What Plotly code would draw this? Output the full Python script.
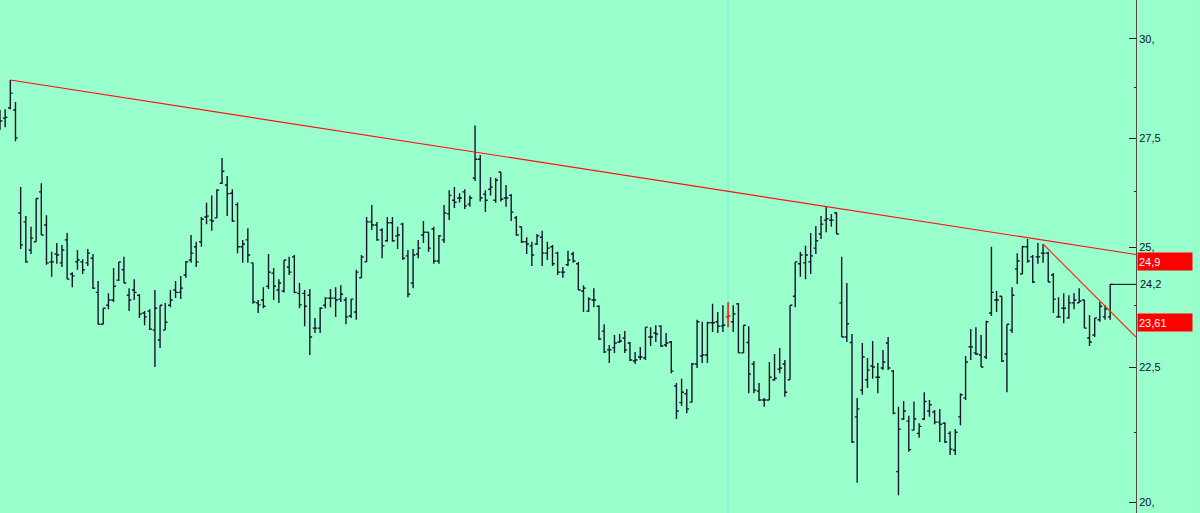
import math
import plotly.graph_objects as go

# ---- data (price values) ----
opens = [27.94, 27.99, 28.24, 28.19, 25.76, 25.56, 24.94, 25.12, 26.24, 25.49,
         24.68, 24.85, 24.66, 25.16, 24.42, 24.68, 24.68, 24.66, 24.76, 24.03,
         23.37, 23.76, 23.87, 24.29, 24.51, 23.97, 24.08, 23.97, 23.60, 23.64,
         23.25, 23.05, 23.25, 23.76, 24.08, 24.03, 24.40, 24.72, 25.01, 25.12,
         25.67, 25.60, 25.65, 26.44, 26.40, 26.21, 25.95, 25.01, 25.16, 24.66,
         23.81, 23.87, 24.16, 24.44, 24.08, 24.06, 24.57, 24.79, 24.01, 24.01,
         23.97, 23.29, 23.29, 23.76, 23.91, 23.91, 23.89, 23.87, 23.54, 23.62,
         24.34, 24.68, 25.56, 25.49, 25.38, 25.14, 25.54, 25.25, 25.51, 24.81,
         24.23, 24.85, 25.27, 25.33, 25.40, 24.70, 25.16, 25.74, 26.05, 26.10,
         26.24, 25.96, 26.56, 27.00, 26.19, 26.30, 26.05, 26.70, 26.10, 26.16,
         25.65, 25.45, 25.12, 25.03, 25.07, 25.22, 24.87, 25.01, 24.87, 24.46,
         24.62, 24.85, 24.64, 24.06, 23.64, 23.87, 23.74, 23.23, 22.85, 22.89,
         23.01, 23.09, 22.99, 22.63, 22.71, 22.69, 23.11, 23.19, 23.33, 22.95,
         23.01, 22.14, 21.82, 21.99, 21.83, 22.57, 22.73, 22.75, 23.40, 23.42,
         23.33, 23.52, 23.42, 23.79, 22.79, 23.00, 22.57, 22.04, 21.87, 21.87,
         22.26, 22.47, 22.57, 22.26, 23.95, 24.64, 24.66, 24.68, 24.98, 25.29,
         25.60, 25.60, 25.76, 23.81, 23.11, 23.00, 21.55, 22.06, 22.26, 22.53,
         22.31, 22.49, 22.99, 22.43, 20.54, 21.51, 21.47, 21.30, 21.24, 21.51,
         21.66, 21.64, 21.45, 21.43, 21.24, 20.93, 21.55, 21.91, 22.91, 22.79,
         22.75, 22.71, 23.60, 23.87, 23.95, 22.77, 23.25, 24.53, 24.42, 25.01,
         24.79, 24.79, 24.87, 24.87, 24.40, 23.52, 23.70, 23.50, 23.81, 23.81,
         23.87, 23.09, 23.15, 23.46, 23.52, 23.52]
highs = [28.19, 28.21, 28.94, 28.39, 26.35, 25.69, 25.45, 26.09, 26.44, 25.71,
         24.90, 25.09, 25.05, 25.31, 24.46, 24.94, 24.74, 24.96, 24.85, 24.27,
         23.70, 24.01, 24.55, 24.68, 24.79, 24.12, 24.31, 23.99, 23.64, 23.68,
         24.08, 23.76, 23.81, 24.08, 24.27, 24.38, 24.70, 25.27, 25.12, 25.67,
         25.99, 26.16, 26.30, 27.03, 26.61, 26.30, 26.00, 25.16, 25.42, 24.66,
         23.87, 24.14, 24.85, 24.55, 24.31, 24.72, 24.79, 24.83, 24.23, 24.08,
         24.10, 23.50, 23.72, 23.93, 24.10, 24.14, 24.18, 23.93, 23.89, 24.51,
         24.83, 25.67, 25.94, 25.56, 25.42, 25.67, 25.67, 25.45, 25.54, 24.94,
         24.96, 25.16, 25.58, 25.33, 25.45, 25.27, 25.94, 26.28, 26.35, 26.21,
         26.30, 26.16, 27.81, 27.10, 26.28, 26.58, 26.56, 26.70, 26.40, 26.19,
         25.69, 25.45, 25.22, 25.12, 25.29, 25.36, 25.12, 25.05, 24.90, 24.57,
         24.92, 24.90, 24.68, 24.18, 23.93, 24.12, 23.76, 23.37, 22.95, 23.15,
         23.17, 23.23, 23.01, 22.81, 22.91, 23.31, 23.31, 23.35, 23.35, 23.19,
         23.03, 22.20, 22.28, 22.08, 22.59, 23.46, 23.42, 23.42, 23.79, 23.62,
         23.76, 23.83, 23.76, 23.81, 23.35, 23.33, 22.63, 22.20, 21.91, 22.61,
         22.77, 22.89, 22.65, 23.76, 24.68, 24.90, 25.03, 25.31, 25.47, 25.69,
         25.90, 25.74, 25.78, 24.79, 24.23, 23.17, 21.91, 22.99, 22.69, 23.03,
         22.59, 22.85, 23.11, 22.45, 21.74, 21.85, 21.57, 21.84, 21.43, 22.02,
         21.87, 21.68, 21.70, 21.45, 21.28, 21.32, 22.00, 22.73, 23.27, 23.31,
         23.15, 23.44, 25.01, 24.06, 23.95, 23.37, 24.14, 24.87, 25.03, 25.18,
         24.83, 25.09, 25.07, 24.90, 24.44, 23.93, 24.01, 23.97, 24.01, 24.12,
         23.87, 23.56, 23.50, 23.83, 23.76, 24.20]
lows = [27.70, 27.77, 28.21, 27.43, 24.96, 24.66, 24.85, 25.12, 25.27, 24.62,
        24.36, 24.64, 24.57, 24.31, 24.14, 24.51, 24.42, 24.59, 24.10, 23.37,
        23.37, 23.68, 23.83, 24.27, 24.23, 23.64, 23.87, 23.50, 23.35, 23.25,
        22.51, 22.89, 23.25, 23.72, 23.91, 23.89, 24.34, 24.66, 24.57, 25.01,
        25.51, 25.36, 25.65, 26.42, 25.69, 25.56, 24.87, 24.66, 24.66, 23.79,
        23.60, 23.70, 24.10, 23.87, 23.81, 24.03, 24.40, 24.01, 23.70, 23.33,
        22.75, 23.19, 23.19, 23.70, 23.72, 23.52, 23.83, 23.37, 23.50, 23.46,
        24.34, 24.68, 25.38, 25.14, 24.76, 25.12, 25.12, 24.96, 24.72, 23.93,
        24.12, 24.76, 25.09, 24.90, 24.64, 24.64, 25.09, 25.60, 25.87, 26.00,
        25.85, 25.90, 26.49, 26.02, 25.78, 26.16, 25.99, 26.02, 25.90, 25.58,
        25.25, 25.09, 24.85, 24.59, 25.05, 24.59, 24.72, 24.59, 24.40, 24.34,
        24.59, 24.66, 24.08, 23.62, 23.62, 23.72, 23.05, 22.79, 22.59, 22.79,
        22.99, 22.79, 22.63, 22.57, 22.65, 22.65, 22.93, 23.01, 22.91, 22.91,
        22.39, 21.51, 21.76, 21.62, 21.82, 22.49, 22.59, 22.59, 23.21, 23.19,
        23.21, 23.31, 23.21, 22.79, 22.79, 22.00, 22.00, 21.85, 21.74, 21.87,
        22.24, 22.39, 21.93, 22.26, 23.72, 24.36, 24.31, 24.42, 24.85, 25.18,
        25.33, 25.45, 25.29, 23.11, 23.01, 21.06, 20.34, 21.97, 22.10, 22.28,
        22.00, 22.45, 22.45, 21.60, 20.12, 21.49, 20.90, 21.30, 21.16, 21.49,
        21.55, 21.41, 21.08, 21.06, 20.84, 20.84, 21.39, 21.87, 22.65, 22.75,
        22.51, 22.67, 23.54, 23.62, 22.61, 22.02, 23.19, 24.21, 24.42, 24.66,
        24.23, 24.64, 24.66, 24.25, 23.60, 23.50, 23.39, 23.48, 23.68, 23.81,
        23.29, 22.93, 23.11, 23.42, 23.46, 23.46]
closes = [27.92, 28.01, 28.61, 27.51, 25.05, 24.68, 25.20, 26.09, 25.27, 24.66,
          24.68, 24.83, 24.94, 24.31, 24.38, 24.72, 24.51, 24.87, 24.12, 23.37,
          23.70, 23.87, 24.16, 24.68, 24.23, 23.87, 24.03, 23.58, 23.52, 23.27,
          23.70, 23.76, 23.41, 23.87, 24.03, 24.12, 24.68, 24.87, 24.68, 25.62,
          25.69, 25.58, 26.28, 26.72, 26.20, 25.58, 25.01, 25.07, 24.83, 23.83,
          23.77, 23.74, 24.46, 24.16, 24.23, 24.72, 24.46, 24.03, 23.77, 23.74,
          23.11, 23.29, 23.70, 23.91, 23.91, 23.87, 23.99, 23.52, 23.89, 24.46,
          24.79, 25.56, 25.49, 25.16, 25.03, 25.54, 25.14, 25.27, 24.76, 23.99,
          24.83, 24.98, 25.33, 24.98, 24.70, 25.25, 25.76, 26.16, 26.00, 26.10,
          25.92, 26.10, 27.00, 26.10, 26.05, 26.35, 26.51, 26.07, 26.10, 25.78,
          25.27, 25.12, 25.07, 24.83, 25.25, 24.87, 24.98, 24.64, 24.46, 24.46,
          24.72, 24.70, 24.08, 24.12, 23.89, 23.87, 23.07, 22.81, 22.85, 22.99,
          23.03, 22.85, 22.65, 22.65, 22.71, 23.31, 23.11, 23.17, 22.93, 22.99,
          22.43, 21.66, 22.02, 21.70, 22.57, 23.42, 22.75, 23.40, 23.40, 23.33,
          23.35, 23.54, 23.58, 22.79, 23.35, 22.37, 22.06, 21.87, 21.87, 22.31,
          22.29, 22.49, 22.02, 23.76, 24.68, 24.83, 24.83, 24.81, 25.14, 25.51,
          25.63, 25.60, 25.29, 23.11, 23.38, 21.08, 21.70, 22.71, 22.45, 22.51,
          22.31, 22.61, 22.49, 21.62, 21.32, 21.66, 20.94, 21.51, 21.37, 21.84,
          21.78, 21.45, 21.41, 21.08, 20.95, 21.26, 21.97, 22.61, 22.91, 22.77,
          22.51, 23.42, 24.03, 23.87, 22.63, 23.37, 23.97, 24.70, 25.01, 24.70,
          24.25, 24.79, 24.87, 24.25, 23.89, 23.52, 23.70, 23.81, 23.87, 23.85,
          23.29, 23.01, 23.50, 23.74, 23.68, 24.20]

highlight_bar = 141          # bar drawn in red, with the cursor line
x_last = 220                 # right edge of the price area (in bar units)

trend1_x = [2, 220]
trend1_y = [28.94, 24.84]
trend2_x = [202, 220]
trend2_y = [25.07, 23.11]

last_price = 24.2
label_values = [24.9, 23.61]
label_texts = ["24,9", "23,61"]

tick_vals = [20, 22.5, 25, 27.5, 30]
tick_text = ["20,", "22,5", "25,", "27,5", "30,"]
minor_vals = [21.25, 23.75, 26.25, 28.75]

y_min, y_max = 19.81, 31.04

# ---- figure ----
BG = "#99FFCC"
BAR = "#15152e"

idx = list(range(len(opens)))
main = [i for i in idx if i != highlight_bar]

fig = go.Figure()
fig.add_trace(go.Ohlc(
    x=main,
    open=[opens[i] for i in main], high=[highs[i] for i in main],
    low=[lows[i] for i in main], close=[closes[i] for i in main],
    increasing=dict(line=dict(color=BAR, width=1.4)),
    decreasing=dict(line=dict(color=BAR, width=1.4)),
    tickwidth=0.45, hoverinfo="skip", showlegend=False,
))
h = highlight_bar
fig.add_trace(go.Ohlc(
    x=[h], open=[opens[h]], high=[highs[h]], low=[lows[h]], close=[closes[h]],
    increasing=dict(line=dict(color="#FF0000", width=1.4)),
    decreasing=dict(line=dict(color="#FF0000", width=1.4)),
    tickwidth=0.45, hoverinfo="skip", showlegend=False,
))
fig.add_trace(go.Scatter(x=trend1_x, y=trend1_y, mode="lines",
                         line=dict(color="#FF1010", width=1.2),
                         hoverinfo="skip", showlegend=False))
fig.add_trace(go.Scatter(x=trend2_x, y=trend2_y, mode="lines",
                         line=dict(color="#F03010", width=1.2),
                         hoverinfo="skip", showlegend=False))
fig.add_trace(go.Scatter(x=[idx[-1], x_last], y=[last_price, last_price],
                         mode="lines", line=dict(color="#000000", width=1),
                         hoverinfo="skip", showlegend=False))

fig.add_shape(type="line", xref="x", yref="paper", x0=h, x1=h, y0=0, y1=1,
              line=dict(color="#7FE8D4", width=1), layer="below")
fig.add_shape(type="line", xref="paper", yref="paper",
              x0=1195.5 / 1136, x1=1195.5 / 1136, y0=0, y1=1,
              line=dict(color="#C4E8A8", width=1))

for v, t in zip(label_values, label_texts):
    fig.add_annotation(xref="paper", yref="y", x=1137 / 1136, y=math.log10(v),
                       xanchor="left", yanchor="top", text=t, showarrow=False,
                       width=52, height=15, align="left", borderpad=1,
                       bgcolor="#FF0000",
                       font=dict(family="Liberation Sans", size=11, color="#FFFFFF"))
fig.add_annotation(xref="paper", yref="y", x=1138 / 1136, y=math.log10(last_price),
                   xanchor="left", yanchor="middle", text="24,2", showarrow=False,
                   font=dict(family="Liberation Sans", size=11, color="#101028"))

fig.update_layout(
    width=1200, height=513,
    margin=dict(l=0, r=64, t=0, b=0, pad=0),
    paper_bgcolor=BG, plot_bgcolor=BG,
    xaxis=dict(range=[0, x_last], visible=False, rangeslider=dict(visible=False),
               showgrid=False, zeroline=False, fixedrange=True),
    yaxis=dict(type="log", range=[math.log10(y_min), math.log10(y_max)],
               side="right", showgrid=False, zeroline=False,
               showline=True, linecolor="#5a4848", linewidth=1,
               ticks="inside", ticklen=7, tickcolor="#202020", tickwidth=1,
               tickmode="array", tickvals=tick_vals, ticktext=tick_text,
               tickfont=dict(family="Liberation Sans", size=11, color="#101028"),
               minor=dict(tickmode="array", tickvals=minor_vals, ticks="inside",
                          ticklen=2, tickcolor="#202020", showgrid=False),
               fixedrange=True),
    showlegend=False,
)

fig.write_html("out.html", config={"displayModeBar": False})
